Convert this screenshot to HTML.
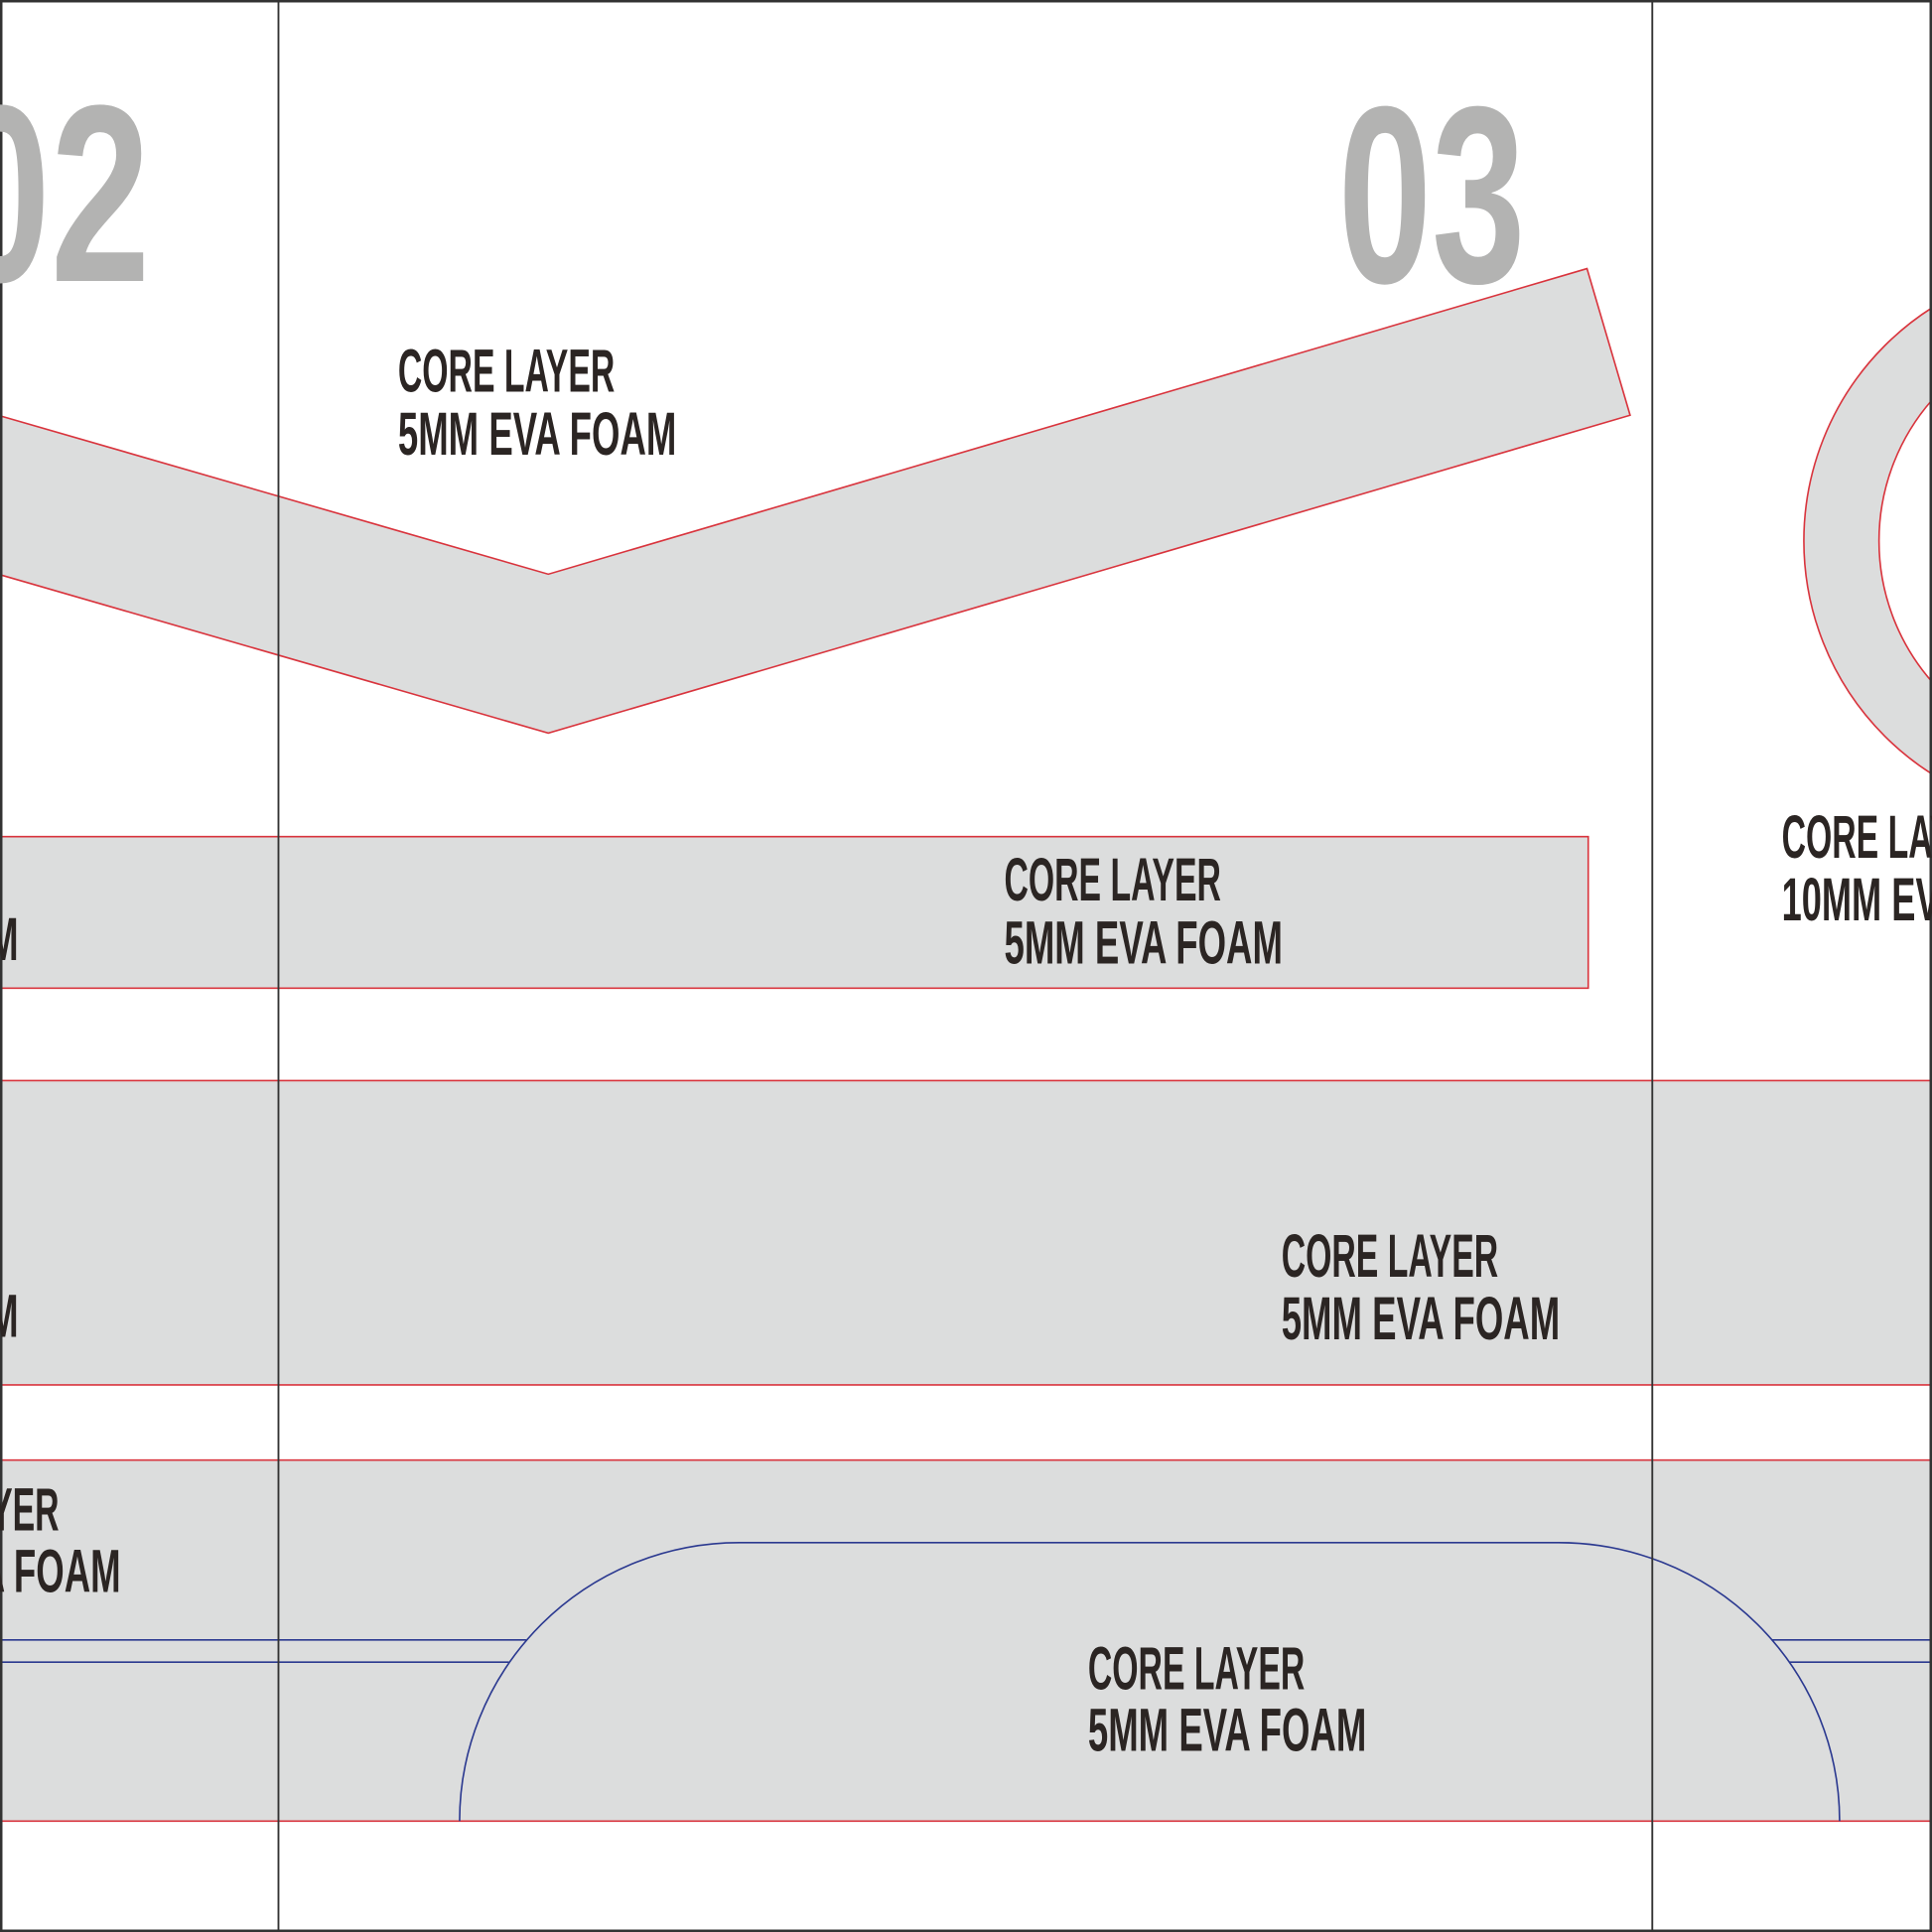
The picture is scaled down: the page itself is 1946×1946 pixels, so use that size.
<!DOCTYPE html>
<html><head><meta charset="utf-8"><style>html,body{margin:0;padding:0;background:#fff}svg{display:block}</style></head>
<body>
<svg width="1946" height="1946" viewBox="0 0 1568 1568" xmlns="http://www.w3.org/2000/svg">
<rect width="1568" height="1568" fill="#fff"/>
<g fill="#dcdddd" stroke="#d9343d" stroke-width="1.3">
<polygon points="-5,336 445,466 1288,218 1323,337 445,595 -5,465"/>
<rect x="-5" y="679" width="1294" height="123"/>
<rect x="-5" y="877" width="1580" height="247"/>
<rect x="-5" y="1185" width="1580" height="293"/>
<path fill-rule="evenodd" d="M1464,439 a224,224 0 1,0 448,0 a224,224 0 1,0 -448,0 Z M1525,439 a173,173 0 1,0 346,0 a173,173 0 1,0 -346,0 Z"/>
</g>
<g fill="none" stroke="#2b3990" stroke-width="1.3">
<path d="M373,1478 A227,226 0 0 1 600,1252 L1265,1252 A228,226 0 0 1 1493,1478"/>
<line x1="0" y1="1331" x2="427" y2="1331"/>
<line x1="0" y1="1349" x2="413" y2="1349"/>
<line x1="1438" y1="1331" x2="1568" y2="1331"/>
<line x1="1452" y1="1349" x2="1568" y2="1349"/>
</g>
<g stroke="#333" stroke-width="1.5">
<line x1="226" y1="0" x2="226" y2="1568"/>
<line x1="1341" y1="0" x2="1341" y2="1568"/>
</g>
<rect x="1" y="1" width="1566" height="1566" fill="none" stroke="#333" stroke-width="2"/>
<g font-family="'Liberation Sans Narrow','Liberation Sans',sans-serif" font-weight="bold" fill="#b3b3b2" font-size="205">
<text x="-40" y="228" textLength="162" lengthAdjust="spacingAndGlyphs">02</text>
<text x="1086" y="229" textLength="152" lengthAdjust="spacingAndGlyphs">03</text>
</g>
<g font-family="'Liberation Sans Narrow','Liberation Sans',sans-serif" font-weight="bold" fill="#2b2523" font-size="49">
<text x="323" y="318" textLength="176" lengthAdjust="spacingAndGlyphs">CORE LAYER</text>
<text x="323" y="369" textLength="226" lengthAdjust="spacingAndGlyphs">5MM EVA FOAM</text>
<text x="815" y="731" textLength="176" lengthAdjust="spacingAndGlyphs">CORE LAYER</text>
<text x="815" y="782" textLength="226" lengthAdjust="spacingAndGlyphs">5MM EVA FOAM</text>
<text x="1040" y="1036" textLength="176" lengthAdjust="spacingAndGlyphs">CORE LAYER</text>
<text x="1040" y="1087" textLength="226" lengthAdjust="spacingAndGlyphs">5MM EVA FOAM</text>
<text x="883" y="1371" textLength="176" lengthAdjust="spacingAndGlyphs">CORE LAYER</text>
<text x="883" y="1421" textLength="226" lengthAdjust="spacingAndGlyphs">5MM EVA FOAM</text>
<text x="1446" y="696" textLength="176" lengthAdjust="spacingAndGlyphs">CORE LAYER</text>
<text x="1446" y="747" textLength="240" lengthAdjust="spacingAndGlyphs">10MM EVA FOAM</text>
<text x="-128" y="1242" textLength="176" lengthAdjust="spacingAndGlyphs">CORE LAYER</text>
<text x="-128" y="1292" textLength="226" lengthAdjust="spacingAndGlyphs">5MM EVA FOAM</text>
<text x="-211" y="779" textLength="226" lengthAdjust="spacingAndGlyphs">5MM EVA FOAM</text>
<text x="-211" y="1085" textLength="226" lengthAdjust="spacingAndGlyphs">5MM EVA FOAM</text>
</g>
</svg>
</body></html>
